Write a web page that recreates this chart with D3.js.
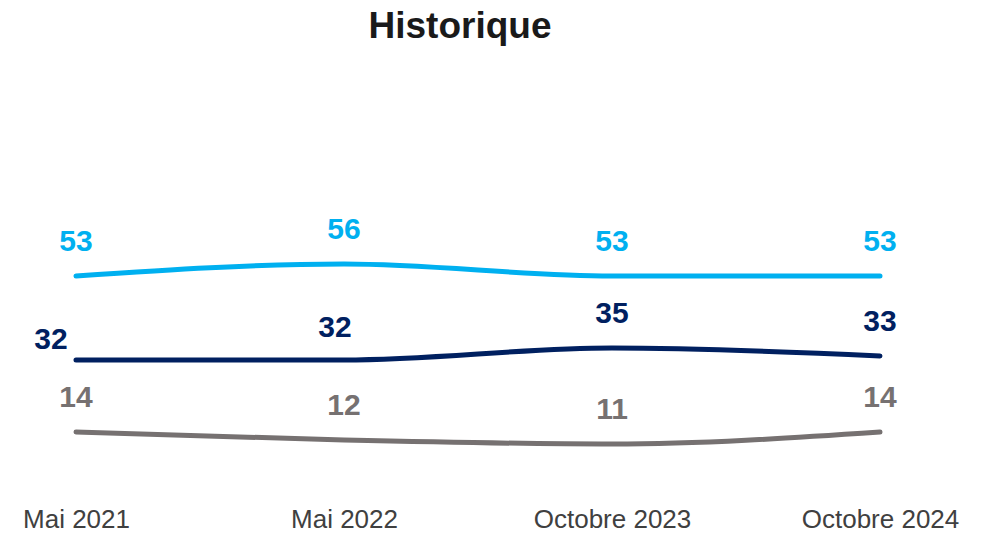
<!DOCTYPE html>
<html>
<head>
<meta charset="utf-8">
<script src="https://cdn.jsdelivr.net/npm/d3@7"></script>
<style>
  body { margin: 0; background: #fff; }
  svg { display: block; font-family: "Liberation Sans", Arial, sans-serif; }
</style>
</head>
<body>
<svg width="992" height="534"></svg>
<script>
var periods = ["Mai 2021", "Mai 2022", "Octobre 2023", "Octobre 2024"];
var blueValues = [53, 56, 53, 53];
var navyValues = [32, 32, 35, 33];
var greyValues = [14, 12, 11, 14];

// label nudges (px) for the navy series, the rest sit straight above
var navyNudge = [[-25, 14], [-9, 2], [0, 0], [0, 0]];

var series = [
    {name: "blue", values: blueValues, color: "#00b0f0"},
    {name: "navy", values: navyValues, color: "#002060", nudge: navyNudge},
    {name: "grey", values: greyValues, color: "#767171"}
];

var svg = d3.select("svg");

var x = d3.scalePoint().domain(periods).range([76, 880]);
var y = d3.scaleLinear().domain([0, 53]).range([488, 276]);

svg.append("text")
    .attr("x", 460)
    .attr("y", 38)
    .attr("text-anchor", "middle")
    .attr("font-size", "37px")
    .attr("font-weight", "bold")
    .attr("fill", "#1a1a1a")
    .text("Historique");

var line = d3.line()
    .x(function(d, i) { return x(periods[i]); })
    .y(function(d) { return y(d); })
    .curve(d3.curveMonotoneX);

var g = svg.selectAll(".serie")
    .data(series)
    .enter().append("g")
    .attr("class", "serie");

g.append("path")
    .attr("d", function(s) { return line(s.values); })
    .attr("fill", "none")
    .attr("stroke", function(s) { return s.color; })
    .attr("stroke-width", 5)
    .attr("stroke-linecap", "round");

g.each(function(s) {
    d3.select(this).selectAll("text")
        .data(s.values)
        .enter().append("text")
        .attr("x", function(d, i) { return x(periods[i]) + (s.nudge ? s.nudge[i][0] : 0); })
        .attr("y", function(d, i) { return y(d) - 25 + (s.nudge ? s.nudge[i][1] : 0); })
        .attr("text-anchor", "middle")
        .attr("font-size", "30px")
        .attr("font-weight", "bold")
        .attr("fill", s.color)
        .text(function(d) { return d; });
});

var xAxis = svg.append("g")
    .attr("transform", "translate(0,528)")
    .call(d3.axisBottom(x).tickSize(0).tickPadding(0));
xAxis.select(".domain").remove();
xAxis.selectAll("text")
    .attr("dy", 0)
    .attr("font-size", "26px")
    .attr("font-family", "Liberation Sans, Arial, sans-serif")
    .attr("fill", "#404040");
</script>
</body>
</html>
